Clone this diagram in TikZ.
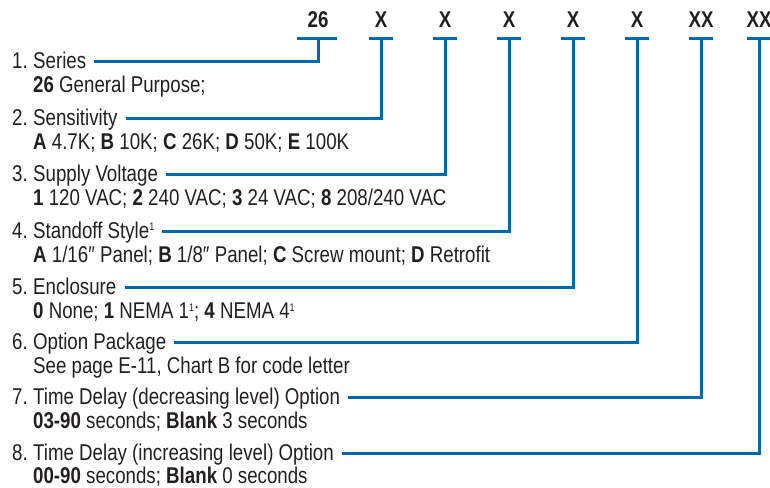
\documentclass[tikz,border=0pt]{standalone}
\usepackage{fontspec}
\setmainfont{Liberation Sans}[FakeStretch=0.82]
\definecolor{pblue}{HTML}{0068A8}
\definecolor{ptext}{HTML}{231F20}
\newcommand{\num}[1]{\makebox[21pt][l]{#1}}
\newcommand{\supone}{\raisebox{7.5pt}{\fontsize{11}{11}\selectfont 1}}
\begin{document}
\begin{tikzpicture}[x=1pt,y=-1pt,
  txt/.style={anchor=base west, inner sep=0pt, text=ptext, font=\fontsize{22.8}{26}\selectfont},
  hdr/.style={anchor=base, inner sep=0pt, text=ptext, font=\fontsize{22.8}{26}\selectfont\bfseries},
  conn/.style={draw=pblue, line width=3pt, line join=miter, line cap=butt}]
\useasboundingbox (0,0) rectangle (770,487);
% headers
\node[hdr] (h1) at (318,28) {26};
\node[hdr] (h2) at (381,28) {X};
\node[hdr] (h3) at (445,28) {X};
\node[hdr] (h4) at (509,28) {X};
\node[hdr] (h5) at (573,28) {X};
\node[hdr] (h6) at (637,28) {X};
\node[hdr] (h7) at (701,28) {XX};
\node[hdr] (h8) at (759,28) {XX};
\foreach \i/\x in {1/318,2/381,3/445,4/509,5/573,6/637,7/701,8/759}{
  \coordinate (b\i) at (\x,39);
}
\draw[conn] ([xshift=-21pt]b1) -- ([xshift=19pt]b1);
\foreach \i in {2,...,8}{
  \draw[conn] ([xshift=-12pt]b\i) -- ([xshift=12pt]b\i);
}
% titles and details
\node[txt] (t1) at (12,68) {\num{1.}Series};
\node[txt] (d1) at (33,92.5) {\textbf{26} General Purpose;};
\node[txt] (t2) at (12,125) {\num{2.}Sensitivity};
\node[txt] (d2) at (33,149.5) {\textbf{A} 4.7K; \textbf{B} 10K; \textbf{C} 26K; \textbf{D} 50K; \textbf{E} 100K};
\node[txt] (t3) at (12,181) {\num{3.}Supply Voltage};
\node[txt] (d3) at (33,205.5) {\textbf{1} 120 VAC; \textbf{2} 240 VAC; \textbf{3} 24 VAC; \textbf{8} 208/240 VAC};
\node[txt] (t4) at (12,238) {\num{4.}Standoff Style\supone};
\node[txt] (d4) at (33,262.5) {\textbf{A} 1/16″ Panel; \textbf{B} 1/8″ Panel; \textbf{C} Screw mount; \textbf{D} Retrofit};
\node[txt] (t5) at (12,294) {\num{5.}Enclosure};
\node[txt] (d5) at (33,318.5) {\textbf{0} None; \textbf{1} NEMA 1\supone; \textbf{4} NEMA 4\supone};
\node[txt] (t6) at (12,349) {\num{6.}Option Package};
\node[txt] (d6) at (33,373.5) {See page E-11, Chart B for code letter};
\node[txt] (t7) at (12,404) {\num{7.}Time Delay (decreasing level) Option};
\node[txt] (d7) at (33,428.5) {\textbf{03-90} seconds; \textbf{Blank} 3 seconds};
\node[txt] (t8) at (12,460) {\num{8.}Time Delay (increasing level) Option};
\node[txt] (d8) at (33,483.5) {\textbf{00-90} seconds; \textbf{Blank} 0 seconds};
% connectors
\foreach \i in {1,...,8}{
  \draw[conn] ([xshift=8pt,yshift=7pt]t\i.base east) -| (b\i);
}
\end{tikzpicture}
\end{document}
